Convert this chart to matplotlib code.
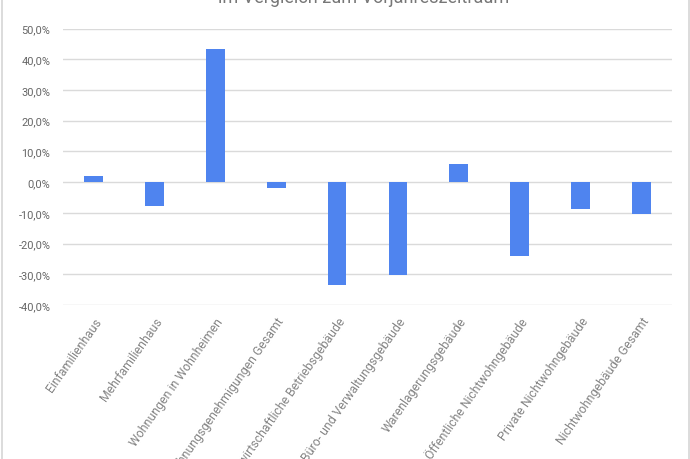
import matplotlib
matplotlib.use("Agg")
import matplotlib.pyplot as plt
from matplotlib.ticker import FuncFormatter
from matplotlib.lines import Line2D

categories = [
    "Einfamilienhaus",
    "Mehrfamilienhaus",
    "Wohnungen in Wohnheimen",
    "Wohnungsgenehmigungen Gesamt",
    "Landwirtschaftliche Betriebsgebäude",
    "Büro- und Verwaltungsgebäude",
    "Warenlagerungsgebäude",
    "Öffentliche Nichtwohngebäude",
    "Private Nichtwohngebäude",
    "Nichtwohngebäude Gesamt",
]
values = [2.0, -7.7, 43.4, -1.8, -33.6, -30.1, 5.8, -24.2, -8.8, -10.3]
yticks = [-40, -30, -20, -10, 0, 10, 20, 30, 40, 50]
title = "Baugenehmigungen\nim Vergleich zum Vorjahreszeitraum"

plt.rcParams['font.family'] = ['Roboto', 'DejaVu Sans']

W, H = 690, 460
fig = plt.figure(figsize=(W / 100, H / 100), dpi=100)
fig.patch.set_facecolor("white")
ax = fig.add_axes([63 / W, 1 - 306 / H, (672 - 63) / W, (306 - 29.5) / H])

x = list(range(len(categories)))
ax.bar(x, values, width=0.31, color="#4f84ef", zorder=3)

ax.set_xlim(-0.5, len(categories) - 0.5)
ax.set_ylim(-40, 50)
ax.set_yticks(yticks)
ax.yaxis.set_major_formatter(FuncFormatter(lambda v, p: f"{v:.1f}".replace(".", ",") + "%"))
ax.grid(axis="y", color="#dadada", linewidth=1.0, zorder=0)
for s in ax.spines.values():
    s.set_visible(False)
ax.tick_params(axis="both", length=0, colors="#666666", labelsize=7.9)
ax.tick_params(axis="y", pad=9)
ax.set_xticks(x)
ax.set_xticklabels(categories, rotation=55, ha="right", va="top",
                   rotation_mode="anchor", color="#858585", fontsize=8.8)
ax.tick_params(axis="x", pad=7)

fig.text(364 / W, 1 - 3 / H, title, ha="center", va="baseline",
         fontsize=13, color="#777777", linespacing=1.3)

fig.add_artist(Line2D([1.5 / W, 1.5 / W], [0, 1], color="#d6d6d6", linewidth=1.2, transform=fig.transFigure))
fig.add_artist(Line2D([688.5 / W, 688.5 / W], [0, 1], color="#d6d6d6", linewidth=1.2, transform=fig.transFigure))

fig.savefig("out.png", dpi=100)
